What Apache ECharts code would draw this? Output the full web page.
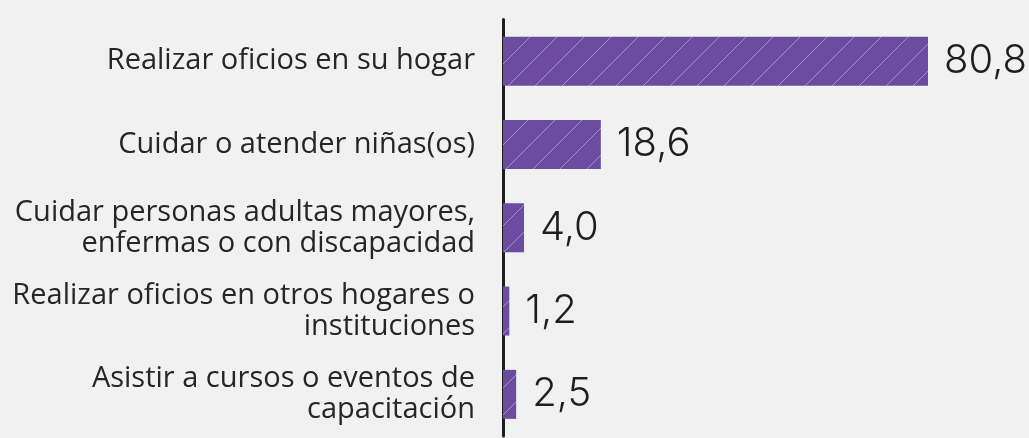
<!DOCTYPE html>
<html>
<head>
<meta charset="utf-8">
<script src="https://cdn.jsdelivr.net/npm/echarts@6/dist/echarts.min.js"></script>
<style>
  html, body { margin: 0; padding: 0; background: #f1f1f1; }
  #chart { width: 1029px; height: 438px; }
</style>
</head>
<body>
<div id="chart"></div>
<script>
  const categories = [
      'Realizar oficios en su hogar',
      'Cuidar o atender niñas(os)',
      'Cuidar personas adultas mayores,\nenfermas o con discapacidad',
      'Realizar oficios en otros hogares o\ninstituciones',
      'Asistir a cursos o eventos de\ncapacitación'
  ]
  const values = [80.8, 18.6, 4.0, 1.2, 2.5]

  // diagonal hatch tile for the bars
  function hatch() {
      const size = 27
      const c = document.createElement('canvas')
      c.width = size
      c.height = size
      const ctx = c.getContext('2d')
      ctx.fillStyle = '#6b4ca0'
      ctx.fillRect(0, 0, size, size)
      ctx.strokeStyle = '#a390c9'
      ctx.lineWidth = 1
      ctx.beginPath()
      ctx.moveTo(-1, size + 1)
      ctx.lineTo(size + 1, -1)
      ctx.stroke()
      return c
  }

  const chart = echarts.init(document.getElementById('chart'))
  chart.setOption({
      backgroundColor: '#f1f1f1',
      animation: false,
      grid: {
          left: 503,
          width: 527,
          top: 19.5,
          height: 416.5
      },
      xAxis: {
          type: 'value',
          min: 0,
          max: 100,
          show: false
      },
      yAxis: {
          type: 'category',
          inverse: true,
          data: categories,
          axisLine: {
              show: true,
              lineStyle: { color: '#1e1e1e', width: 3 }
          },
          axisTick: { show: false },
          axisLabel: {
              margin: 28,
              align: 'right',
              color: '#262626',
              fontFamily: '"Open Sans", sans-serif',
              fontSize: 29,
              lineHeight: 31
          }
      },
      series: [{
          type: 'bar',
          data: values,
          barWidth: 49,
          itemStyle: {
              color: { image: hatch(), repeat: 'repeat' }
          },
          label: {
              show: true,
              position: 'right',
              distance: 16,
              color: '#1e1e1e',
              fontFamily: '"Inter", sans-serif',
              fontWeight: 300,
              fontSize: 40,
              formatter: p => p.value.toFixed(1).replace('.', ',')
          }
      }]
  })
</script>
</body>
</html>
